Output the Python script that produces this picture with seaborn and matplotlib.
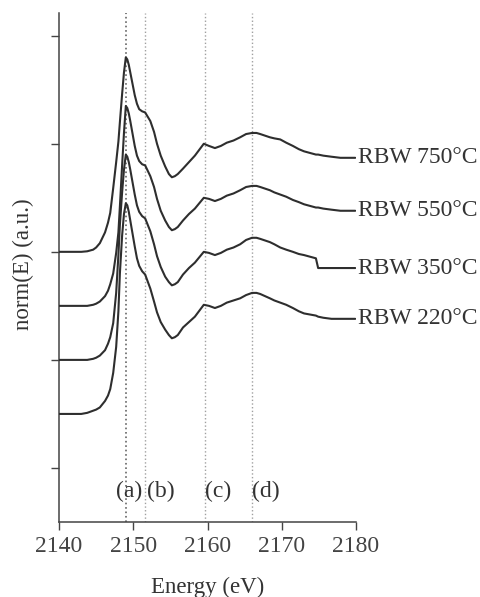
#standard imports
import numpy as np
import pandas as pd

#viz
import matplotlib.pyplot as plt
import seaborn as sns

#energy grid (eV) shared by all spectra
energy = [2140.0, 2143.0, 2143.8, 2144.6, 2145.0, 2145.5, 2146.2, 2146.6, 2146.9, 2147.3,
          2147.7, 2148.0, 2148.2, 2148.5, 2148.75, 2149.0, 2149.2, 2149.4, 2149.6, 2150.2,
          2150.5, 2150.8, 2151.2, 2151.6, 2152.3, 2152.8, 2153.2, 2153.7, 2154.3, 2154.8,
          2155.2, 2155.6, 2156.0, 2156.7, 2157.5, 2158.3, 2159.5, 2160.2, 2161.0, 2161.8,
          2162.6, 2163.5, 2164.4, 2165.2, 2166.0, 2166.6, 2167.1, 2168.4, 2169.0, 2169.8,
          2170.6, 2171.5, 2172.3, 2173.0, 2174.6, 2174.9, 2175.6, 2176.7, 2177.9, 2178.9,
          2179.9]

#normalised absorption (without stacking offset)
norm_750 = [0.00, 0.00, 0.005, 0.02, 0.04, 0.08, 0.18, 0.27, 0.36, 0.59,
            0.83, 1.02, 1.20, 1.46, 1.66, 1.80, 1.78, 1.73, 1.66, 1.45,
            1.37, 1.32, 1.30, 1.29, 1.21, 1.11, 1.00, 0.89, 0.79, 0.72,
            0.69, 0.70, 0.72, 0.77, 0.83, 0.89, 1.00, 0.98, 0.96, 0.98,
            1.01, 1.03, 1.06, 1.09, 1.10, 1.10, 1.09, 1.06, 1.05, 1.04,
            1.01, 0.98, 0.95, 0.93, 0.90, 0.90, 0.89, 0.88, 0.87, 0.87,
            0.87]
norm_550 = [0.00, 0.00, 0.00, 0.01, 0.02, 0.04, 0.09, 0.14, 0.20, 0.30,
            0.49, 0.68, 0.92, 1.30, 1.60, 1.85, 1.83, 1.78, 1.71, 1.48,
            1.39, 1.34, 1.31, 1.30, 1.20, 1.10, 0.99, 0.88, 0.79, 0.73,
            0.70, 0.71, 0.73, 0.79, 0.85, 0.90, 1.00, 0.99, 0.97, 0.99,
            1.02, 1.04, 1.07, 1.10, 1.11, 1.11, 1.10, 1.07, 1.05, 1.03,
            1.01, 0.98, 0.96, 0.94, 0.91, 0.91, 0.90, 0.89, 0.88, 0.88,
            0.88]
norm_350 = [0.00, 0.00, 0.00, 0.01, 0.02, 0.04, 0.09, 0.15, 0.21, 0.34,
            0.62, 0.97, 1.25, 1.55, 1.76, 1.90, 1.88, 1.83, 1.76, 1.53,
            1.43, 1.37, 1.33, 1.31, 1.19, 1.07, 0.96, 0.86, 0.77, 0.72,
            0.69, 0.70, 0.72, 0.79, 0.85, 0.90, 1.00, 0.99, 0.97, 0.99,
            1.02, 1.04, 1.07, 1.11, 1.13, 1.13, 1.12, 1.09, 1.07, 1.04,
            1.02, 1.00, 0.98, 0.97, 0.94, 0.85, 0.85, 0.85, 0.85, 0.85,
            0.85]
norm_220 = [0.00, 0.00, 0.01, 0.03, 0.04, 0.06, 0.12, 0.17, 0.23, 0.38,
            0.62, 0.95, 1.30, 1.65, 1.85, 1.95, 1.93, 1.87, 1.79, 1.55,
            1.44, 1.37, 1.32, 1.29, 1.16, 1.04, 0.94, 0.85, 0.78, 0.73,
            0.70, 0.71, 0.73, 0.80, 0.85, 0.90, 1.01, 1.00, 0.98, 1.00,
            1.03, 1.05, 1.07, 1.10, 1.12, 1.12, 1.11, 1.07, 1.05, 1.03,
            1.01, 0.98, 0.95, 0.93, 0.91, 0.90, 0.89, 0.88, 0.88, 0.88,
            0.88]

samples = ['RBW 750°C', 'RBW 550°C', 'RBW 350°C', 'RBW 220°C']
offsets = [2.0, 1.5, 1.0, 0.5]

#feature positions (eV) and labels
feature_e = [2149.0, 2151.55, 2159.7, 2166.05]
feature_lab = ['(a)', '(b)', '(c)', '(d)']
feature_text_e = [2149.4, 2153.7, 2161.4, 2167.8]

#build long table
frames = []
for name, vals, off in zip(samples, [norm_750, norm_550, norm_350, norm_220], offsets):
    frames.append(pd.DataFrame({'energy': energy,
                                'norm': np.array(vals) + off,
                                'sample': name}))
df = pd.concat(frames, ignore_index=True)

sns.set_style('ticks')
plt.rcParams['font.family'] = ['Liberation Serif', 'DejaVu Serif']
plt.rcParams['text.color'] = '#333333'
plt.rcParams['axes.labelcolor'] = '#333333'
plt.rcParams['xtick.color'] = '#444444'
plt.rcParams['ytick.color'] = '#444444'

fig = plt.figure(figsize=(4.81, 5.97), dpi=100)
ax = fig.add_axes([59 / 481, 75 / 597, 297 / 481, 509 / 597])

#dotted reference lines
for i, e in enumerate(feature_e):
    ax.axvline(e, color='#666666' if i == 0 else '#a0a0a0', ls=':', lw=1.2 if i == 0 else 1.0, zorder=1)

sns.lineplot(data=df, x='energy', y='norm', hue='sample', palette=['#2e2e2e'] * 4,
             legend=False, lw=1.5, ax=ax, zorder=3, sort=False,
             solid_joinstyle='round', solid_capstyle='round')

#sample labels at the end of each line
for name, vals, off in zip(samples, [norm_750, norm_550, norm_350, norm_220], offsets):
    ax.text(2180.3, vals[-1] + off, name, ha='left', va='center', fontsize=17, clip_on=False)

for e, lab in zip(feature_text_e, feature_lab):
    ax.text(e, -0.22, lab, ha='center', va='center', fontsize=17)

ax.set_xlim(2140, 2180)
ax.set_ylim(-0.5, 4.21)
ax.set_xticks([2140, 2150, 2160, 2170, 2180])
ax.set_yticks([0, 1, 2, 3, 4])
ax.set_yticklabels([])
ax.tick_params(axis='both', direction='out', length=6, width=1, labelsize=17, pad=4)
for s in ['left', 'bottom']:
    ax.spines[s].set_color('#444444')
    ax.spines[s].set_linewidth(1.1)
sns.despine(ax=ax)

ax.set_xlabel('Energy (eV)', fontsize=16.5, labelpad=14)
ax.set_ylabel('norm(E) (a.u.)', fontsize=16.5)
ax.yaxis.set_label_coords(-0.085, 0.507)

fig.savefig('out.png', dpi=100)
